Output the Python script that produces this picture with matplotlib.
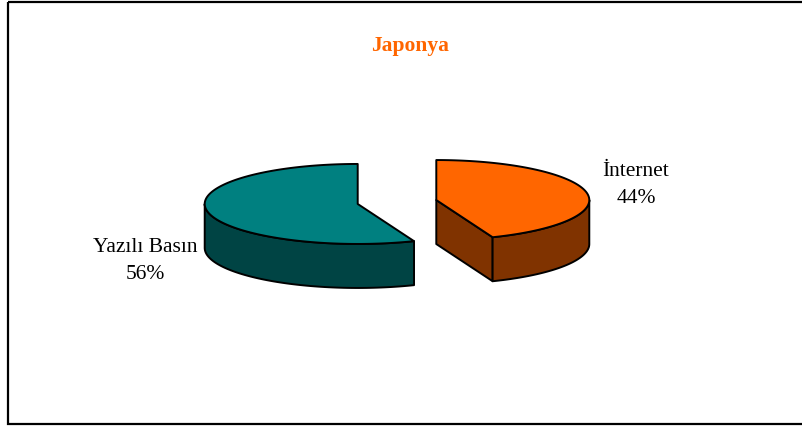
import matplotlib.pyplot as plt
from matplotlib.patches import Polygon, Rectangle
import numpy as np

# data
labels = ["İnternet", "Yazılı Basın"]
values = [44, 56]
top_colors = ["#FF6600", "#008080"]
side_colors = ["#803300", "#004444"]
title = "Japonya"

# layout (pixel space)
W, H = 802, 429
CX, CY = 397, 202
RX, RY = 153, 40
DEPTH = 44
EXPLODE = 40
label_pos = [(636, 185), (145, 261)]


def rim(cx, cy, t, dz=0):
    # t in degrees clockwise from 12 o'clock
    t = np.radians(t)
    return np.column_stack([cx + RX * np.sin(t), cy - RY * np.cos(t) + dz])


fig = plt.figure(figsize=(W / 100, H / 100), dpi=100)
ax = fig.add_axes([0, 0, 1, 1])
ax.set_xlim(0, W)
ax.set_ylim(H, 0)
ax.axis("off")

total = sum(values)
start = 0.0
for i, v in enumerate(values):
    span = 360.0 * v / total
    a1, a2 = start, start + span
    mid = np.radians((a1 + a2) / 2)
    cx = CX + EXPLODE * np.sin(mid)
    cy = CY - EXPLODE * np.cos(mid) * RY / RX
    kw = dict(edgecolor="black", linewidth=1.4, joinstyle="round")

    # radial faces that look towards the viewer
    for edge, sign in ((a1, 1), (a2, -1)):
        normal = np.radians(edge - 90 * sign)
        if np.cos(normal) < -1e-6:
            p = rim(cx, cy, [edge])[0]
            face = [(cx, cy), tuple(p), (p[0], p[1] + DEPTH), (cx, cy + DEPTH)]
            ax.add_patch(Polygon(face, closed=True, facecolor=side_colors[i], **kw))

    # curved outer wall, front half only
    w1, w2 = max(a1, 90), min(a2, 270)
    if w2 > w1:
        tt = np.linspace(w1, w2, 80)
        wall = np.vstack([rim(cx, cy, tt), rim(cx, cy, tt[::-1], DEPTH)])
        ax.add_patch(Polygon(wall, closed=True, facecolor=side_colors[i], **kw))

    # top surface
    tt = np.linspace(a1, a2, 160)
    top = np.vstack([[cx, cy], rim(cx, cy, tt)])
    ax.add_patch(Polygon(top, closed=True, facecolor=top_colors[i], **kw))

    lx, ly = label_pos[i]
    ax.text(lx, ly, f"{labels[i]}\n{v}%", ha="center", va="center",
            fontsize=15.5, family="Liberation Serif", linespacing=1.6)
    start = a2

ax.text(410, 46, title, ha="center", va="center", fontsize=15.5,
        fontweight="bold", color="#FF6600", family="Liberation Serif")

ax.add_patch(Rectangle((8, 2), 800, 422, fill=False, edgecolor="black",
                       linewidth=1.6, clip_on=False))

fig.savefig("out.png", dpi=100)
